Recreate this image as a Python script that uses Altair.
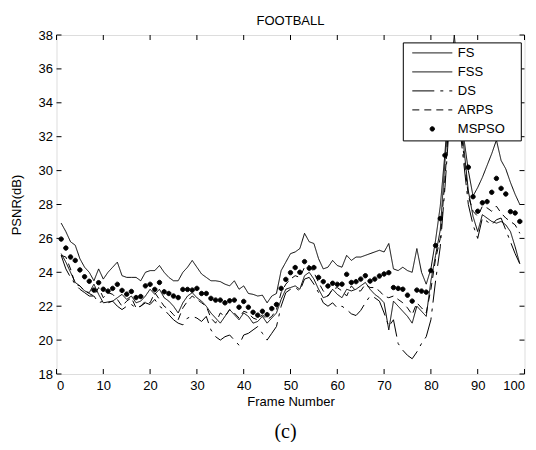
import altair as alt
import pandas as pd

frames = list(range(1, 100))

fs = [26.9, 26.4, 25.8, 25.6, 24.8, 24.3, 24.0, 23.5, 24.2, 23.6,
      24.0, 24.3, 24.6, 23.8, 23.7, 23.7, 23.7, 23.5, 24.0, 24.1,
      24.1, 24.4, 24.0, 23.7, 23.5, 23.5, 24.0, 24.3, 24.7, 24.3,
      23.9, 23.7, 23.5, 23.5, 23.45, 23.3, 23.2, 23.5, 23.0, 23.2,
      22.75, 22.7, 22.6, 22.65, 22.2, 22.6, 22.75, 24.1, 24.6, 25.1,
      25.2, 25.4, 26.3, 25.8, 25.7, 24.8, 24.2, 24.3, 24.7, 24.4,
      24.3, 25.0, 24.7, 24.9, 24.9, 25.0, 25.1, 25.2, 25.3, 25.2,
      25.7, 24.2, 24.1, 24.3, 24.1, 24.0, 25.4, 24.0, 23.3, 24.2,
      25.9, 27.9, 31.0, 35.0, 38.0, 35.0, 32.0, 30.0, 28.5, 29.0,
      29.6, 30.3, 31.0, 31.8, 30.6, 30.1, 29.3, 28.6, 28.0]

fss = [25.1, 24.6, 24.0, 23.4, 23.2, 22.9, 22.8, 23.3, 22.7, 22.2,
       22.25, 22.3, 22.5, 22.7, 22.4, 22.6, 22.2, 22.3, 22.6, 23.0,
       22.7, 23.0, 22.5, 22.3, 22.0, 21.6, 22.2, 22.6, 22.8, 22.5,
       22.3, 22.0, 21.6, 21.3, 21.0, 21.4, 21.8, 21.5, 21.2, 21.6,
       21.4, 21.0, 21.1, 21.4, 21.0, 21.3, 21.6, 22.4, 23.0, 23.1,
       23.2, 23.0, 23.8, 24.0, 23.6, 23.0, 22.5, 22.6, 23.0, 22.7,
       22.5, 23.0, 22.9, 23.0, 23.2, 23.4, 23.0, 22.7, 22.5, 22.2,
       20.6, 22.3, 22.0, 21.7, 21.4, 21.0, 22.0, 21.7, 21.4, 23.5,
       25.0, 26.5, 30.5, 34.0, 36.0, 34.0, 31.5, 28.8, 27.3, 26.4,
       27.4, 27.2, 27.0, 26.9, 27.0, 26.8, 26.4, 25.5, 24.5]

ds = [25.0, 24.2, 23.7, 23.3, 23.0, 22.8, 22.6, 22.6, 22.2, 22.3,
      22.2, 22.3, 22.0, 21.8, 22.0, 22.1, 21.9, 22.0, 22.2, 22.1,
      22.4, 22.0, 21.8, 21.5, 21.2, 21.0, 20.9, 21.3, 21.4, 21.3,
      21.1, 21.4, 20.6, 20.2, 20.0, 20.2, 20.3, 20.0, 19.7, 20.3,
      20.4, 20.6, 20.8, 20.4, 20.0, 20.4, 20.8, 22.0, 22.8, 23.0,
      23.1, 22.9, 23.6, 23.7, 23.3, 22.8, 22.2, 22.0, 22.2, 21.9,
      22.0, 21.8, 21.55, 21.45, 21.75, 22.2, 22.6, 22.5, 22.3, 21.6,
      20.8, 21.2, 19.8, 19.4, 19.1, 18.9, 19.3, 19.8, 20.2, 21.2,
      23.5, 25.5, 29.0, 33.0, 35.0, 33.0, 30.5, 28.0, 26.8, 26.0,
      27.2, 27.0, 26.8, 27.1, 27.2, 26.5, 25.8, 25.1, 24.5]

arps = [25.0, 24.9, 24.2, 23.3, 23.2, 22.9, 22.75, 22.6, 23.1, 22.5,
        22.8, 22.7, 22.4, 22.0, 22.3, 22.5, 21.9, 22.0, 22.3, 22.2,
        22.8, 22.4, 22.0, 21.8, 21.5, 21.2, 21.9, 22.3, 22.6, 22.4,
        22.2, 22.0, 21.3, 21.0, 21.6, 21.4, 21.8, 21.6, 21.3, 21.7,
        21.6, 21.3, 21.2, 21.5, 21.2, 21.4, 21.8, 22.8, 23.3, 23.6,
        23.8, 23.7, 24.3, 24.4, 24.0, 23.4, 22.9, 22.6, 23.0, 23.1,
        22.9, 22.6, 23.2, 22.9, 22.9, 23.3, 23.1, 23.1, 22.9, 22.6,
        22.5, 22.6, 22.4, 22.2, 21.9, 21.5, 22.2, 21.9, 21.6, 23.0,
        24.8, 26.0, 29.5, 33.5, 35.5, 33.5, 31.0, 28.5, 27.6, 27.3,
        27.9, 27.8, 27.6, 27.9, 27.5, 27.2, 27.0, 26.8, 26.3]

mspso = [25.96, 25.43, 24.9, 24.7, 24.14, 23.74, 23.47, 22.95, 23.39, 23.0,
         22.89, 23.05, 23.29, 22.93, 22.71, 22.87, 22.51, 22.57, 23.2, 23.29,
         22.99, 23.4, 22.85, 22.75, 22.6, 22.51, 22.99, 22.99, 22.95, 23.05,
         22.75, 22.75, 22.46, 22.36, 22.36, 22.2, 22.32, 22.36, 21.94, 22.28,
         21.94, 21.64, 21.47, 21.7, 21.5, 21.86, 22.1, 23.05, 23.58, 23.98,
         24.28, 24.0, 24.63, 24.24, 24.28, 23.7, 23.45, 23.19, 23.35, 23.29,
         23.3, 23.88, 23.4, 23.45, 23.6, 23.8, 23.48, 23.6, 23.78, 23.9,
         23.98, 23.1, 23.05, 23.0, 22.65, 22.3, 22.95, 22.89, 22.83, 24.1,
         25.58, 27.17, 30.9, 34.5, 36.5, 34.5, 32.5, 30.2, 28.46, 27.6,
         28.1, 28.17, 28.72, 29.54, 28.95, 28.62, 27.58, 27.5, 27.0]

series_names = ["FS", "FSS", "DS", "ARPS", "MSPSO"]
x_ticks = [0, 10, 20, 30, 40, 50, 60, 70, 80, 90, 100]
y_ticks = [18, 20, 22, 24, 26, 28, 30, 32, 34, 36, 38]

W, H = 468, 339
FONT = "Liberation Sans"

rows = []
for name, vals in [("FS", fs), ("FSS", fss), ("DS", ds), ("ARPS", arps)]:
    for f, v in zip(frames, vals):
        rows.append({"series": name, "frame": f, "psnr": v})
line_df = pd.DataFrame(rows)
pt_df = pd.DataFrame({"series": "MSPSO", "frame": frames, "psnr": mspso})

xscale = alt.Scale(domain=[0, 100], nice=False, zero=False)
yscale = alt.Scale(domain=[18, 38], nice=False, zero=False)

xaxis = alt.Axis(values=x_ticks, title="Frame Number", ticks=False, tickSize=0,
                 domain=False, grid=False, labelPadding=5, titlePadding=3,
                 labelOverlap=False,
                 labelFont=FONT, labelFontSize=13, labelColor="black",
                 titleFont=FONT, titleFontSize=13, titleFontWeight="normal", titleColor="black")
yaxis = alt.Axis(values=y_ticks, title="PSNR(dB)", ticks=False, tickSize=0,
                 domain=False, grid=False, labelPadding=4, titlePadding=15,
                 labelOverlap=False,
                 labelFont=FONT, labelFontSize=13, labelColor="black",
                 titleFont=FONT, titleFontSize=13, titleFontWeight="normal", titleColor="black")

# legend swatches: a 40px stroke (with an invisible move that widens the box) and a dot
line_path = "M-20,0H20M82,0"
dot_path = "M-2.2,0A2.2,2.2,0,1,1,2.2,0A2.2,2.2,0,1,1,-2.2,0Z"


def make_legend():
    return alt.Legend(
        title=None, orient="none", legendX=346.3, legendY=7.4,
        fillColor="white", strokeColor="black", padding=4,
        labelFont=FONT, labelFontSize=13, labelColor="black", labelOffset=19,
        rowPadding=5.0, symbolSize=4, symbolOffset=19,
        symbolStrokeColor="black", symbolFillColor="black", symbolStrokeWidth=1,
        symbolOpacity=1,
    )


dash_scale = alt.Scale(domain=series_names,
                       range=[[1, 0], [1, 0], [22, 6, 3, 6], [7, 5], [1, 0]])
stroke_scale = alt.Scale(domain=series_names, range=["black"] * 5)
shape_scale = alt.Scale(domain=series_names,
                        range=[line_path, line_path, line_path, line_path, dot_path])

lines = alt.Chart(line_df).mark_line(strokeWidth=1, clip=True).encode(
    x=alt.X("frame:Q", scale=xscale, axis=xaxis),
    y=alt.Y("psnr:Q", scale=yscale, axis=yaxis),
    strokeDash=alt.StrokeDash("series:N", scale=dash_scale, legend=make_legend()),
    stroke=alt.Stroke("series:N", scale=stroke_scale, legend=make_legend()),
)

points = alt.Chart(pt_df).mark_point(filled=False, fill="black", strokeWidth=1,
                                     size=4, opacity=1, fillOpacity=1,
                                     clip=True).encode(
    x=alt.X("frame:Q", scale=xscale, axis=xaxis),
    y=alt.Y("psnr:Q", scale=yscale, axis=yaxis),
    shape=alt.Shape("series:N", scale=shape_scale, legend=make_legend()),
    stroke=alt.Stroke("series:N", scale=stroke_scale, legend=make_legend()),
)

xt_df = pd.DataFrame({"frame": x_ticks})
yt_df = pd.DataFrame({"psnr": y_ticks})
tick_len = 5
x_bot = alt.Chart(xt_df).mark_rule(color="black", strokeWidth=1).encode(
    x=alt.X("frame:Q", scale=xscale, axis=xaxis), y=alt.value(H), y2=alt.value(H - tick_len))
x_top = alt.Chart(xt_df).mark_rule(color="black", strokeWidth=1).encode(
    x=alt.X("frame:Q", scale=xscale, axis=xaxis), y=alt.value(0), y2=alt.value(tick_len))
y_left = alt.Chart(yt_df).mark_rule(color="black", strokeWidth=1).encode(
    y=alt.Y("psnr:Q", scale=yscale, axis=yaxis), x=alt.value(0), x2=alt.value(tick_len))
y_right = alt.Chart(yt_df).mark_rule(color="black", strokeWidth=1).encode(
    y=alt.Y("psnr:Q", scale=yscale, axis=yaxis), x=alt.value(W), x2=alt.value(W - tick_len))

caption = alt.Chart(pd.DataFrame({"cap": ["(c)"]})).mark_text(
    font="Liberation Serif", fontSize=20, color="black", align="center", baseline="alphabetic"
).encode(text="cap:N", x=alt.value(229), y=alt.value(403))

chart = alt.layer(lines, points, x_bot, x_top, y_left, y_right, caption).properties(
    width=W, height=H,
    title=alt.TitleParams("FOOTBALL", font=FONT, fontSize=13, fontWeight="normal",
                          color="black", offset=1, anchor="middle"),
    padding={"left": 48.5, "top": 27, "right": 3.5, "bottom": 68},
    autosize=alt.AutoSizeParams(type="none"),
).configure_view(stroke="black", strokeWidth=1).configure_axis(
    labelOverlap=False
).configure(background="white")

chart.save("out.html", embed_options={"renderer": "svg", "actions": False})
